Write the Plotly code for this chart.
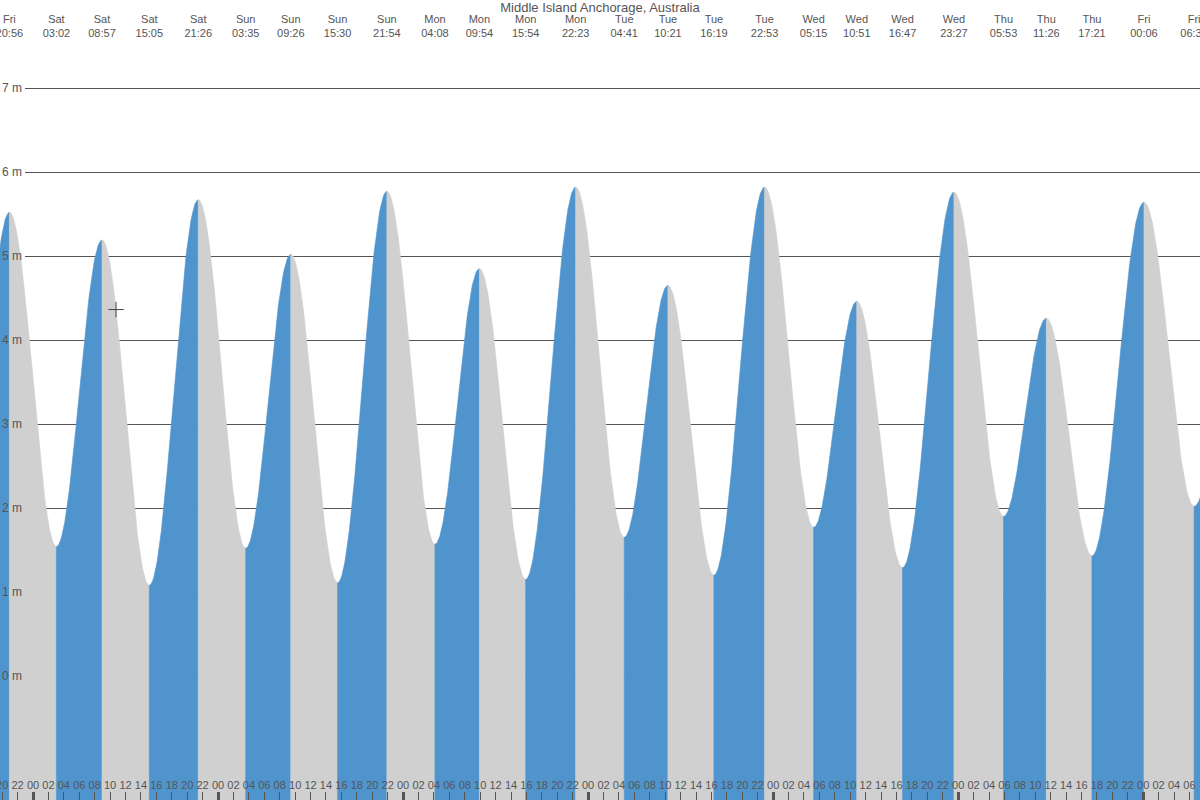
import numpy as np
import pandas as pd
import plotly.graph_objects as go

title_text = "Middle Island Anchorage, Australia"

# High / low tide extremes (local time) and heights in metres
tide_times = [
    "2024-03-01 14:45", "2024-03-01 20:56",
    "2024-03-02 03:02", "2024-03-02 08:57", "2024-03-02 15:05", "2024-03-02 21:26",
    "2024-03-03 03:35", "2024-03-03 09:26", "2024-03-03 15:30", "2024-03-03 21:54",
    "2024-03-04 04:08", "2024-03-04 09:54", "2024-03-04 15:54", "2024-03-04 22:23",
    "2024-03-05 04:41", "2024-03-05 10:21", "2024-03-05 16:19", "2024-03-05 22:53",
    "2024-03-06 05:15", "2024-03-06 10:51", "2024-03-06 16:47", "2024-03-06 23:27",
    "2024-03-07 05:53", "2024-03-07 11:26", "2024-03-07 17:21",
    "2024-03-08 00:06", "2024-03-08 06:36", "2024-03-08 12:15",
]
tide_heights = [
    1.05, 5.52,
    1.54, 5.19, 1.08, 5.67,
    1.52, 5.02, 1.11, 5.77,
    1.57, 4.85, 1.15, 5.82,
    1.65, 4.65, 1.20, 5.82,
    1.77, 4.46, 1.29, 5.76,
    1.90, 4.26, 1.43,
    5.64, 2.02, 4.10,
]

now_time = "2024-03-02 10:46"

y_tick_values = [0, 1, 2, 3, 4, 5, 6, 7]
y_tick_labels = ["0 m", "1 m", "2 m", "3 m", "4 m", "5 m", "6 m", "7 m"]

x_start = "2024-03-01 19:43"
x_end = "2024-03-08 07:22"
y_low, y_high = -1.476, 8.048

rising_color = "#4f94cd"
falling_color = "#d0d0d0"
grid_color = "#555555"
text_color = "#555555"
FONT = "Liberation Sans, Arial, sans-serif"
label_edge = 25 / 1200  # where the y labels end and the grid lines begin

t_ext = pd.to_datetime(tide_times)
h_ext = np.array(tide_heights)


def tide_at(ts):
    """Cosine interpolation between consecutive extremes."""
    ts = pd.Timestamp(ts)
    for i in range(len(t_ext) - 1):
        if t_ext[i] <= ts <= t_ext[i + 1]:
            frac = (ts - t_ext[i]) / (t_ext[i + 1] - t_ext[i])
            return float(h_ext[i] + (h_ext[i + 1] - h_ext[i]) * (1 - np.cos(np.pi * frac)) / 2)
    return None


fig = go.Figure()

# grid-only subplot (x / y), drawn first; its domain starts right of the y labels
fig.add_trace(go.Scatter(x=[0.5], y=[y_low], mode="markers",
                         marker=dict(opacity=0), hoverinfo="skip",
                         showlegend=False, xaxis="x", yaxis="y"))

# tide fill segments
n = 80
for i in range(len(t_ext) - 1):
    t0, t1 = t_ext[i], t_ext[i + 1]
    frac = np.linspace(0, 1, n)
    xs = [(t0 + (t1 - t0) * f).strftime("%Y-%m-%d %H:%M:%S") for f in frac]
    ys = [float(v) for v in h_ext[i] + (h_ext[i + 1] - h_ext[i]) * (1 - np.cos(np.pi * frac)) / 2]
    color = rising_color if h_ext[i + 1] > h_ext[i] else falling_color
    px = xs + [xs[-1], xs[0], xs[0]]
    py = ys + [y_low - 1, y_low - 1, ys[0]]
    fig.add_trace(go.Scatter(x=px, y=py, mode="lines", fill="toself",
                             fillcolor=color, line=dict(color=color, width=0.6),
                             hoverinfo="skip", showlegend=False,
                             xaxis="x2", yaxis="y2"))

# current-time marker
fig.add_trace(go.Scatter(x=[now_time], y=[tide_at(now_time)],
                         mode="markers",
                         marker=dict(symbol="cross-thin", size=11, color="#444444",
                                     line=dict(color="#444444", width=1)),
                         hoverinfo="skip", showlegend=False,
                         xaxis="x2", yaxis="y2"))

# invisible traces carrying the extra axes
ext_str = [t.strftime("%Y-%m-%d %H:%M:%S") for t in t_ext]
top_text = [f"{t.strftime('%a')}<br>{t.strftime('%H:%M')}" for t in t_ext]
for xa, ya in [("x3", "y2"), ("x4", "y2"), ("x2", "y3")]:
    fig.add_trace(go.Scatter(x=ext_str, y=[float(v) for v in h_ext], mode="markers",
                             marker=dict(opacity=0), hoverinfo="skip",
                             showlegend=False, xaxis=xa, yaxis=ya))

fig.update_layout(
    width=1200, height=800,
    margin=dict(l=0, r=0, t=0, b=0, pad=0),
    paper_bgcolor="white", plot_bgcolor="rgba(0,0,0,0)",
    font=dict(family=FONT, size=11, color=text_color),
    title=dict(text=title_text, x=0.5, xanchor="center", y=1 - 7 / 800,
               yanchor="middle", font=dict(family=FONT, size=13, color=text_color)),
    xaxis=dict(domain=[label_edge, 1], range=[0, 1], autorange=False, automargin=False,
               showticklabels=False,
               ticks="", showgrid=False, zeroline=False, showline=False),
    yaxis=dict(domain=[0, 1], anchor="x", range=[y_low, y_high], autorange=False,
               automargin=False, tickvals=y_tick_values,
               showgrid=True, gridcolor=grid_color, gridwidth=1,
               showticklabels=False, zeroline=False, showline=False, ticks=""),
    xaxis2=dict(domain=[0, 1], anchor="y2", range=[x_start, x_end], autorange=False,
                automargin=False, type="date",
                tickformat="%H", dtick=2 * 3600 * 1000, tick0="2024-03-01 00:00",
                ticks="inside", ticklen=8, tickwidth=1, tickcolor=grid_color,
                ticklabelposition="inside", ticklabeloverflow="allow", tickangle=0,
                showgrid=False, zeroline=False,
                showline=False, tickfont=dict(size=11, color=text_color)),
    yaxis2=dict(domain=[0, 1], anchor="x2", range=[y_low, y_high], autorange=False,
                automargin=False, showticklabels=False,
                showgrid=False, zeroline=False, showline=False, ticks=""),
    yaxis3=dict(overlaying="y2", anchor="free", position=label_edge, side="left",
                range=[y_low, y_high], autorange=False, automargin=False,
                tickvals=y_tick_values, ticktext=y_tick_labels,
                ticklabelposition="outside", ticklabeloverflow="allow",
                ticklabelstandoff=3,
                showgrid=False, zeroline=False, showline=False, ticks="",
                tickfont=dict(size=12, color=text_color)),
    xaxis3=dict(overlaying="x2", side="top", anchor="y2", range=[x_start, x_end],
                autorange=False, automargin=False,
                type="date", tickmode="array", tickvals=ext_str, ticktext=top_text,
                ticklabelposition="inside", ticklabeloverflow="allow", tickangle=0,
                ticklabelstandoff=12, ticks="", showgrid=False,
                zeroline=False, showline=False,
                tickfont=dict(size=11, color=text_color)),
    xaxis4=dict(overlaying="x2", side="bottom", anchor="y2", range=[x_start, x_end],
                autorange=False, automargin=False,
                type="date", dtick=24 * 3600 * 1000, tick0="2024-03-01 00:00",
                ticks="inside", ticklen=8, tickwidth=3, tickcolor=grid_color,
                showticklabels=False, showgrid=False, zeroline=False, showline=False),
)

fig.write_html("out.html", config={"displayModeBar": False},
               post_script="document.body.style.margin='0';")
